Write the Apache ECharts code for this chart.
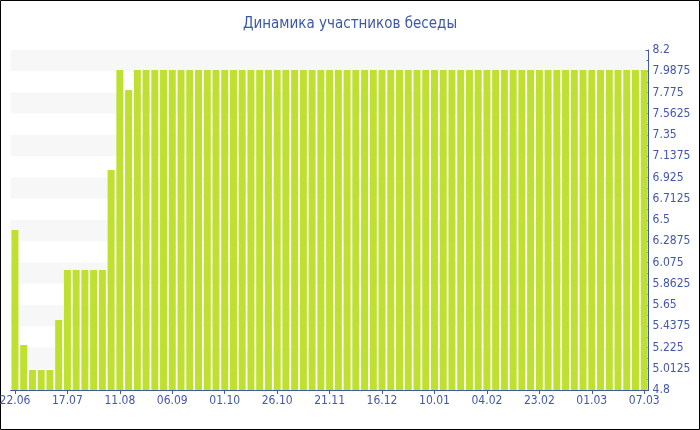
<!DOCTYPE html>
<html>
<head>
<meta charset="utf-8">
<script src="https://cdn.jsdelivr.net/npm/echarts@6/dist/echarts.min.js"></script>
<style>
html,body{margin:0;padding:0;background:#fff;}
#chart{width:700px;height:430px;}
</style>
</head>
<body>
<div id="chart"></div>
<script>
var titleText = 'Динамика участников беседы';

var categories = [
  '22.06','26.06','30.06','04.07','08.07','13.07',
  '17.07','21.07','25.07','29.07','02.08','07.08',
  '11.08','15.08','19.08','24.08','28.08','01.09',
  '06.09','10.09','14.09','18.09','22.09','27.09',
  '01.10','05.10','09.10','13.10','17.10','22.10',
  '26.10','30.10','03.11','08.11','12.11','16.11',
  '21.11','25.11','29.11','03.12','07.12','12.12',
  '16.12','20.12','24.12','28.12','01.01','06.01',
  '10.01','14.01','18.01','22.01','26.01','31.01',
  '04.02','07.02','10.02','13.02','16.02','19.02',
  '23.02','24.02','25.02','26.02','27.02','28.02',
  '01.03','02.03','03.03','04.03','05.03','06.03',
  '07.03'
];

var members = [
  6.4, 5.25, 5, 5, 5, 5.5,
  6, 6, 6, 6, 6, 7,
  8, 7.8, 8, 8, 8, 8,
  8, 8, 8, 8, 8, 8,
  8, 8, 8, 8, 8, 8,
  8, 8, 8, 8, 8, 8,
  8, 8, 8, 8, 8, 8,
  8, 8, 8, 8, 8, 8,
  8, 8, 8, 8, 8, 8,
  8, 8, 8, 8, 8, 8,
  8, 8, 8, 8, 8, 8,
  8, 8, 8, 8, 8, 8,
  8
];

var yMin = 4.8;
var yMax = 8.2;
var yStep = 0.2125;

var axisBlue = '#4358a6';
var font = 'DejaVu Sans Condensed, DejaVu Sans, sans-serif';

var chart = echarts.init(document.getElementById('chart'), null, {renderer: 'canvas'});
chart.setOption({
  animation: false,
  backgroundColor: '#fff',
  title: {
    text: titleText,
    left: 'center',
    top: 12,
    textStyle: {color: '#3d58a8', fontSize: 15, fontWeight: 'normal', fontFamily: font}
  },
  graphic: [{
    type: 'rect',
    shape: {x: 0.5, y: 0.5, width: 699, height: 429},
    style: {fill: 'none', stroke: '#000', lineWidth: 1},
    silent: true
  }],
  grid: {left: 10.6, right: 51.4, top: 50, bottom: 40, containLabel: false, outerBoundsMode: 'none'},
  xAxis: {
    type: 'category',
    data: categories,
    boundaryGap: true,
    axisLine: {lineStyle: {color: axisBlue, width: 1}},
    axisTick: {show: true, alignWithLabel: true, interval: 5, length: 4, lineStyle: {color: axisBlue}},
    axisLabel: {interval: 5, color: axisBlue, fontSize: 12, fontFamily: font, margin: 5, hideOverlap: false},
    splitLine: {show: false}
  },
  yAxis: {
    type: 'value',
    position: 'right',
    min: yMin,
    max: yMax,
    interval: yStep,
    axisLine: {show: true, lineStyle: {color: axisBlue, width: 1}},
    axisTick: {show: true, inside: true, length: 3, lineStyle: {color: axisBlue}},
    minorTick: {show: true, splitNumber: 2, length: 2, lineStyle: {color: axisBlue}},
    axisLabel: {
      color: axisBlue, fontSize: 12, fontFamily: font, margin: 4,
      formatter: function (v) { return String(Math.round(v * 10000) / 10000); }
    },
    splitLine: {show: false},
    splitArea: {show: true, areaStyle: {color: ['rgba(255,255,255,0)', '#f7f7f7']}}
  },
  series: [{
    type: 'bar',
    data: members,
    barCategoryGap: '20%',
    itemStyle: {color: '#bfe030'}
  }]
});
</script>
</body>
</html>
